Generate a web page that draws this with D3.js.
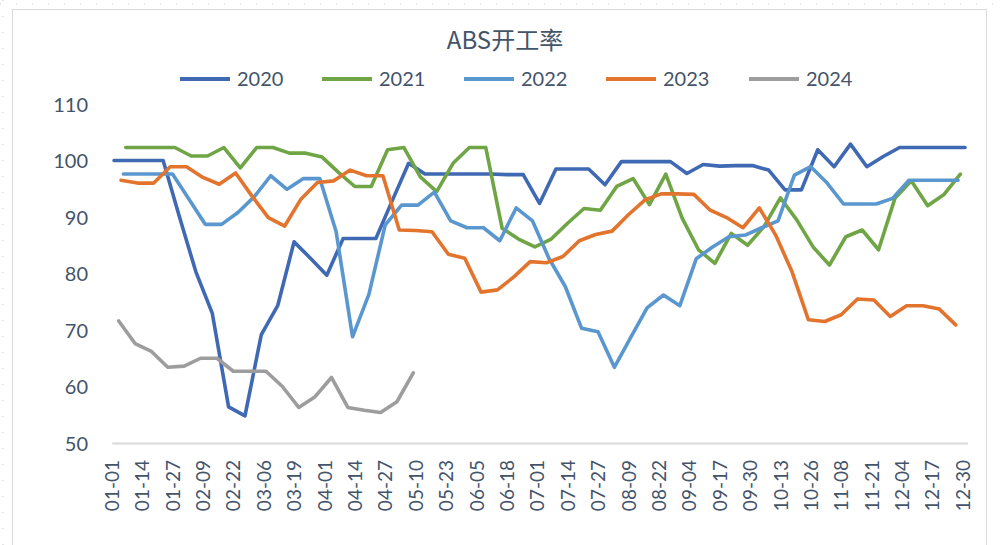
<!DOCTYPE html>
<html>
<head>
<meta charset="utf-8">
<script src="https://cdn.jsdelivr.net/npm/d3@7"></script>
<style>
  html, body { margin: 0; padding: 0; background: #fff; }
  svg { display: block; }
</style>
</head>
<body>
<svg id="chart" width="1000" height="545"></svg>
<script>
// ---- data ----
const title = "ABS开工率";
const tickLabels = ["01-01","01-14","01-27","02-09","02-22","03-06","03-19","04-01","04-14","04-27",
  "05-10","05-23","06-05","06-18","07-01","07-14","07-27","08-09","08-22","09-04","09-17","09-30",
  "10-13","10-26","11-08","11-21","12-04","12-17","12-30"];
const tickStepDays = 13;
const yTicks = [50, 60, 70, 80, 90, 100, 110];
const seriesNames = ["2020", "2021", "2022", "2023", "2024"];
// day-of-year (0-based) of first weekly observation in each year
const startDays = [1, 6, 5, 4, 3];
const weekDays = 7;

const v2020 = [100,100,100,100,90.0,80.3,73.0,56.4,54.8,69.2,74.3,85.6,82.7,79.7,86.2,86.2,86.2,92.9,99.5,97.6,
  97.6,97.6,97.6,97.6,97.5,97.5,92.4,98.5,98.5,98.5,95.7,99.8,99.8,99.8,99.8,97.7,99.3,99.0,99.1,99.1,
  98.3,94.8,94.8,101.9,98.9,102.9,98.9,100.7,102.3,102.3,102.3,102.3,102.3];
const v2021 = [102.3,102.3,102.3,102.3,100.8,100.8,102.3,98.7,102.3,102.3,101.3,101.3,100.6,97.9,95.4,95.4,101.9,102.3,97.1,94.5,
  99.5,102.3,102.3,88.0,86.1,84.7,86.1,88.9,91.5,91.2,95.4,96.8,92.2,97.6,89.8,84.2,81.8,87.1,85.0,88.3,
  93.4,89.5,84.7,81.5,86.5,87.7,84.2,93.3,96.4,92.0,94.0,97.6];
const v2022 = [97.6,97.6,97.6,97.6,93.2,88.7,88.7,90.8,93.6,97.3,94.9,96.8,96.8,87.4,68.8,76.3,88.6,92.1,92.1,94.4,
  89.3,88.1,88.1,85.8,91.6,89.3,82.7,77.7,70.3,69.7,63.4,68.7,73.9,76.2,74.3,82.6,84.7,86.5,86.8,88.1,
  89.3,97.4,98.9,96.0,92.3,92.3,92.3,93.3,96.5,96.5,96.5,96.5];
const v2023 = [96.5,96.0,96.0,98.9,98.9,97.0,95.8,97.8,93.7,89.9,88.4,93.2,96.1,96.4,98.3,97.3,97.3,87.7,87.6,87.4,
  83.4,82.7,76.7,77.1,79.4,82.1,81.9,83.0,85.8,86.9,87.5,90.4,93.0,94.1,94.1,94.0,91.2,89.9,88.1,91.6,
  86.8,80.3,71.8,71.5,72.7,75.5,75.3,72.4,74.3,74.3,73.7,70.9];
const v2024 = [71.6,67.6,66.2,63.4,63.6,65.0,65.0,62.7,62.7,62.7,60.0,56.3,58.2,61.6,56.3,55.8,55.4,57.3,62.4];
const seriesValues = [v2020, v2021, v2022, v2023, v2024];
const colors = ["#4069B3", "#6FA545", "#5A97CE", "#E3742E", "#9D9D9D"];

// ---- drawing ----
const svg = d3.select("#chart");
const textColor = "#44546A";

// sheet ruler / border hints
svg.append("line").attr("x1", 0).attr("x2", 1000).attr("y1", 4).attr("y2", 4)
  .attr("stroke", "#c8c8c8").attr("stroke-dasharray", "1,15");
svg.append("line").attr("x1", 3).attr("x2", 3).attr("y1", 0).attr("y2", 545)
  .attr("stroke", "#c8c8c8").attr("stroke-dasharray", "1,15");
svg.append("rect").attr("x", 12.5).attr("y", 9.5).attr("width", 974).attr("height", 545)
  .attr("fill", "none").attr("stroke", "#d9d9d9").attr("stroke-width", 1);

const x = d3.scaleLinear().domain([0, 366]).range([111.7, 967.4]);
const y = d3.scaleLinear().domain([50, 110]).range([443, 104]);

// title
svg.append("text").attr("x", 505).attr("y", 49).attr("text-anchor", "middle")
  .attr("font-family", "'Noto Sans CJK SC', 'Noto Sans', sans-serif").attr("font-size", 24)
  .attr("fill", textColor).text(title);

// legend
const legendX = [180, 322, 464, 606, 749];
const lg = svg.append("g");
seriesNames.forEach((name, i) => {
  lg.append("line").attr("x1", legendX[i]).attr("x2", legendX[i] + 50)
    .attr("y1", 79).attr("y2", 79).attr("stroke", colors[i]).attr("stroke-width", 4);
  lg.append("text").attr("x", legendX[i] + 57).attr("y", 79).attr("dy", "0.35em")
    .attr("font-family", "Lato, sans-serif").attr("font-size", 20).attr("fill", textColor).text(name);
});

// y axis labels
const yAxis = d3.axisLeft(y).tickValues(yTicks).tickSize(0).tickPadding(0);
const yg = svg.append("g").attr("transform", "translate(88,0)").call(yAxis);
yg.select(".domain").remove();
yg.selectAll("text").attr("font-family", "Lato, sans-serif").attr("font-size", 20)
  .attr("fill", textColor).attr("dy", "0.35em");

// x axis
const tickDays = tickLabels.map((d, i) => i * tickStepDays);
const xAxis = d3.axisBottom(x).tickValues(tickDays).tickSize(0)
  .tickFormat((d, i) => tickLabels[i]);
const xg = svg.append("g").attr("transform", "translate(0,443)").call(xAxis);
xg.select(".domain").attr("stroke", "#d9d9d9").attr("stroke-width", 2);
xg.selectAll("text").attr("font-family", "Lato, sans-serif").attr("font-size", 19)
  .attr("fill", textColor)
  .attr("transform", "rotate(-90)")
  .attr("text-anchor", "end").attr("x", -17).attr("y", 0).attr("dy", "0.35em");

// lines
const line = d3.line().x(d => x(d.day)).y(d => y(d.v));
seriesValues.forEach((vals, s) => {
  const pts = vals.map((v, i) => ({ day: startDays[s] + i * weekDays, v }));
  svg.append("path").datum(pts).attr("d", line).attr("fill", "none")
    .attr("stroke", colors[s]).attr("stroke-width", 3.6)
    .attr("stroke-linejoin", "round").attr("stroke-linecap", "round");
});
</script>
</body>
</html>
